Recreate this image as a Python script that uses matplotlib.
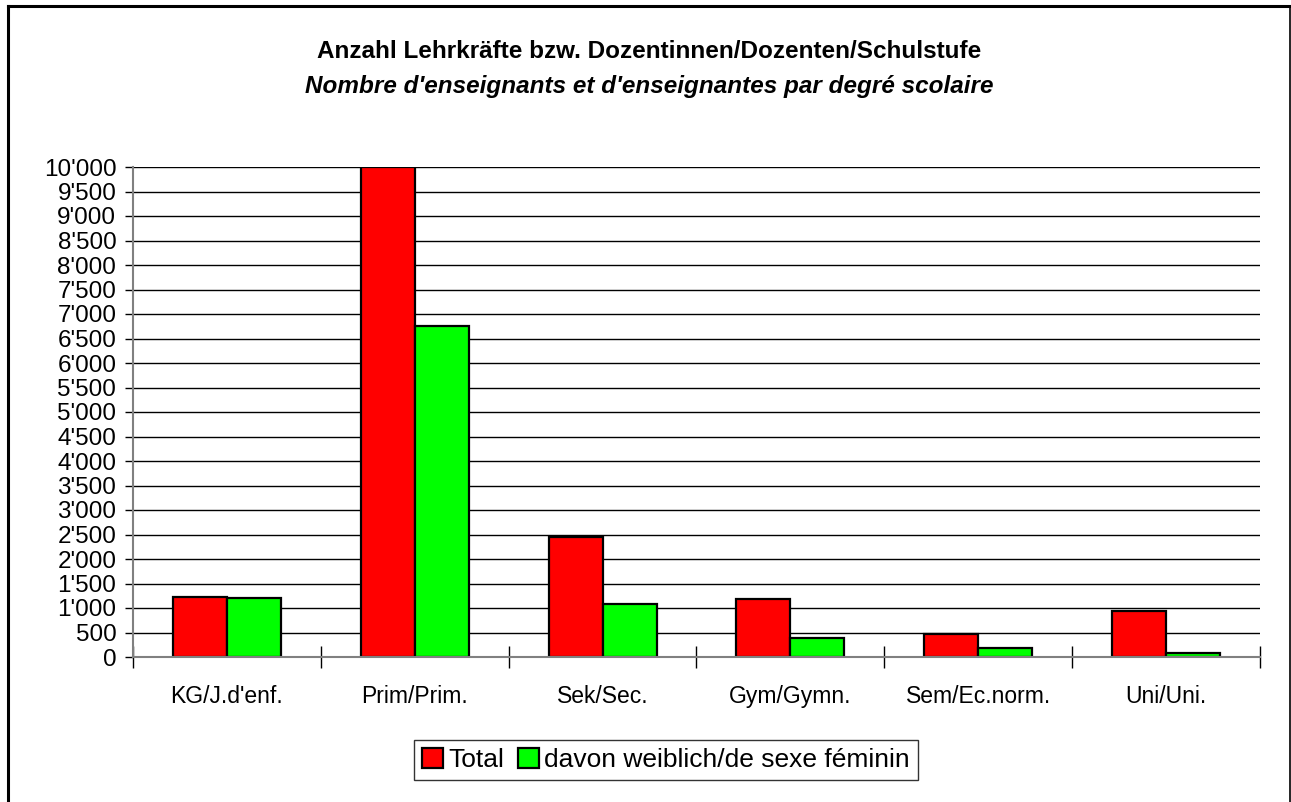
import matplotlib
matplotlib.use("Agg")
import matplotlib.pyplot as plt
from matplotlib.lines import Line2D
from matplotlib.ticker import MultipleLocator, FuncFormatter
import numpy as np

plt.rcParams['font.family'] = ['Liberation Sans', 'DejaVu Sans']

categories = ["KG/J.d'enf.", "Prim/Prim.", "Sek/Sec.", "Gym/Gymn.", "Sem/Ec.norm.", "Uni/Uni."]
total = [1215, 10000, 2447, 1176, 478, 943]
weiblich = [1205, 6756, 1074, 383, 178, 82]
series_names = ["Total", "davon weiblich/de sexe féminin"]

W, H = 1291, 802
fig = plt.figure(figsize=(W / 100, H / 100), dpi=100)
ax = fig.add_axes([133 / W, 1 - 657 / H, (1260 - 133) / W, (657 - 167) / H])

x = np.arange(len(categories))
bw = 54 / 188
ax.bar(x - bw / 2, total, bw, color="#ff0000", edgecolor="black", linewidth=1.6, zorder=3, label=series_names[0])
ax.bar(x + bw / 2, weiblich, bw, color="#00ff00", edgecolor="black", linewidth=1.6, zorder=3, label=series_names[1])

ax.set_xlim(-0.5, len(categories) - 0.5)
ax.set_ylim(0, 10000)
ax.yaxis.set_major_locator(MultipleLocator(500))
ax.yaxis.set_major_formatter(FuncFormatter(lambda v, p: f"{int(v):,}".replace(",", "'")))
ax.grid(axis="y", color="black", linewidth=1, zorder=1)

# category boundary ticks
ax.set_xticks(np.arange(len(categories) + 1) - 0.5)
ax.set_xticklabels([])
ax.set_xticks(x, minor=True)
ax.set_xticklabels(categories, minor=True, fontsize=16.5)
ax.tick_params(axis="x", which="major", direction="inout", length=16, width=1, color="black")
ax.tick_params(axis="x", which="minor", length=0, pad=20)
ax.tick_params(axis="y", direction="out", length=6, width=1, color="black", labelsize=17.5, pad=6)

for s in ["top", "right"]:
    ax.spines[s].set_visible(False)
for s in ["left", "bottom"]:
    ax.spines[s].set_color("#808080")
    ax.spines[s].set_linewidth(1.5)
    ax.spines[s].set_zorder(4)

fig.text(649 / W, 1 - 52 / H, "Anzahl Lehrkräfte bzw. Dozentinnen/Dozenten/Schulstufe",
         ha="center", va="center", fontsize=17.5, fontweight="bold")
fig.text(649 / W, 1 - 87 / H, "Nombre d'enseignants et d'enseignantes par degré scolaire",
         ha="center", va="center", fontsize=17.5, fontweight="bold", style="italic")

leg = ax.legend(loc="center", bbox_to_anchor=(666 / W, 1 - 760 / H), bbox_transform=fig.transFigure,
                ncol=2, fontsize=19, frameon=True, fancybox=False, edgecolor="black",
                handlelength=0.8, handleheight=0.8, handletextpad=0.2, columnspacing=0.5,
                borderpad=0.3, borderaxespad=0)
leg.get_frame().set_linewidth(1)

# outer chart frame
fig.add_artist(Line2D([7.5 / W, 7.5 / W], [0, 1 - 5.5 / H], color="black", linewidth=2.2, transform=fig.transFigure))
fig.add_artist(Line2D([7.5 / W, 1289.5 / W], [1 - 5.5 / H, 1 - 5.5 / H], color="black", linewidth=2.2, transform=fig.transFigure))
fig.add_artist(Line2D([1289.5 / W, 1289.5 / W], [0, 1 - 5.5 / H], color="black", linewidth=1.2, transform=fig.transFigure))

fig.savefig("out.png", dpi=100)
